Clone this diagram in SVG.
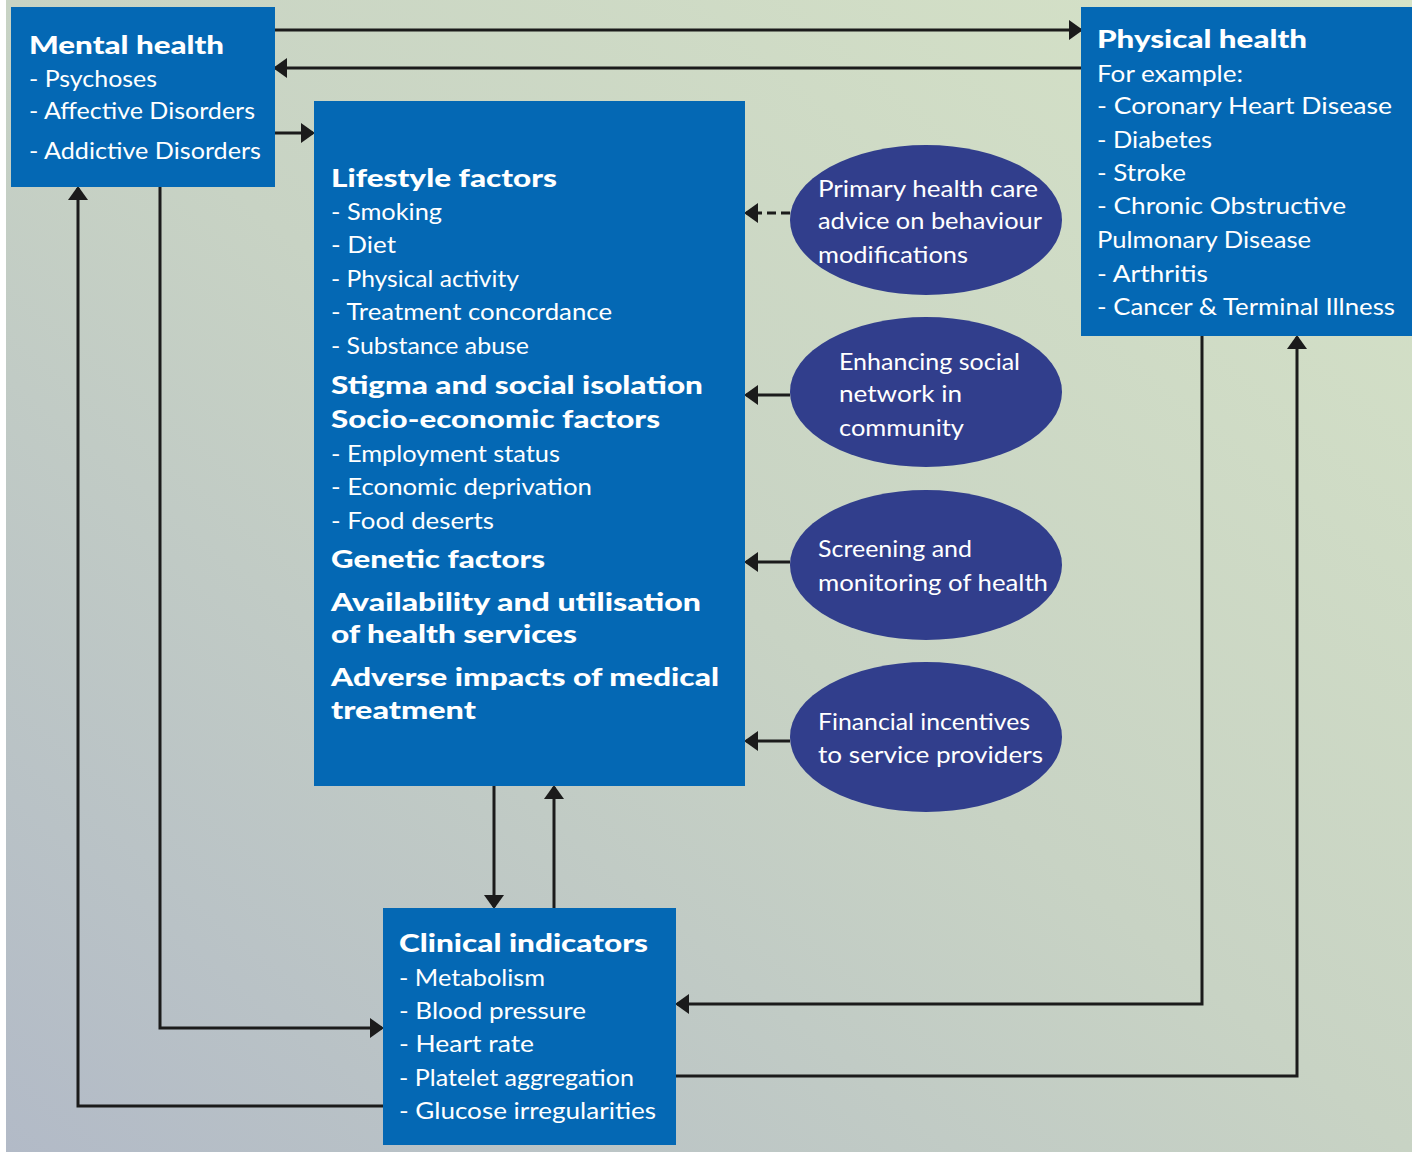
<svg xmlns="http://www.w3.org/2000/svg" width="1412" height="1152" viewBox="0 0 1412 1152">
  <defs>
    <linearGradient id="bg" x1="0" y1="1" x2="1" y2="0">
      <stop offset="0" stop-color="#b2bac7"/>
      <stop offset="0.5" stop-color="#c8d3c4"/>
      <stop offset="1" stop-color="#d6e3c7"/>
    </linearGradient>
    <marker id="arrow" markerUnits="userSpaceOnUse" viewBox="0 0 14 20" refX="12" refY="10" markerWidth="14" markerHeight="20" orient="auto">
      <path d="M0,0 L14,10 L0,20 Z" fill="#1b1b1b"/>
    </marker>
    <style>
      .box { fill: #0468b4; }
      .oval { fill: #313e8c; }
      .t { font-family: Lato, "Liberation Sans", sans-serif; font-size: 24px; fill: #ffffff; }
      .h { font-family: Lato, "Liberation Sans", sans-serif; font-size: 25px; font-weight: 900; fill: #ffffff; }
      .link { fill: none; stroke: #1b1b1b; stroke-width: 3; marker-end: url(#arrow); }
      .dash { stroke-dasharray: 9 5; }
    </style>
  </defs>

  <!-- background -->
  <rect x="0" y="0" width="1412" height="1152" fill="url(#bg)"/>
  <rect x="0" y="0" width="6" height="1152" fill="#ffffff"/>

  <!-- connectors -->
  <g id="connectors">
    <path class="link" d="M275,30 H1081"/>
    <path class="link" d="M1081,68 H275"/>
    <path class="link" d="M275,133 H313"/>
    <path class="link dash" d="M790,213 H746"/>
    <path class="link" d="M790,395 H746"/>
    <path class="link" d="M790,562 H746"/>
    <path class="link" d="M790,741 H746"/>
    <path class="link" d="M494,786 V907"/>
    <path class="link" d="M554,908 V787"/>
    <path class="link" d="M160,187 V1028 H382"/>
    <path class="link" d="M383,1106 H78 V188"/>
    <path class="link" d="M1202,336 V1004 H677"/>
    <path class="link" d="M676,1076 H1297 V337"/>
  </g>

  <!-- mental health -->
  <g id="mental-health">
    <rect class="box" x="11" y="7" width="264" height="180"/>
    <text class="h" x="29" y="54" textLength="195" lengthAdjust="spacingAndGlyphs">Mental health</text>
    <text class="t" x="29" y="87" textLength="128" lengthAdjust="spacingAndGlyphs">- Psychoses</text>
    <text class="t" x="29" y="119" textLength="226" lengthAdjust="spacingAndGlyphs">- Affective Disorders</text>
    <text class="t" x="29" y="159" textLength="232" lengthAdjust="spacingAndGlyphs">- Addictive Disorders</text>
  </g>

  <!-- physical health -->
  <g id="physical-health">
    <rect class="box" x="1081" y="7" width="331" height="329"/>
    <text class="h" x="1097" y="48" textLength="210" lengthAdjust="spacingAndGlyphs">Physical health</text>
    <text class="t" x="1097" y="82" textLength="146" lengthAdjust="spacingAndGlyphs">For example:</text>
    <text class="t" x="1097" y="114" textLength="295" lengthAdjust="spacingAndGlyphs">- Coronary Heart Disease</text>
    <text class="t" x="1097" y="148" textLength="115" lengthAdjust="spacingAndGlyphs">- Diabetes</text>
    <text class="t" x="1097" y="181" textLength="89" lengthAdjust="spacingAndGlyphs">- Stroke</text>
    <text class="t" x="1097" y="214" textLength="249" lengthAdjust="spacingAndGlyphs">- Chronic Obstructive</text>
    <text class="t" x="1097" y="248" textLength="214" lengthAdjust="spacingAndGlyphs">Pulmonary Disease</text>
    <text class="t" x="1097" y="282" textLength="111" lengthAdjust="spacingAndGlyphs">- Arthritis</text>
    <text class="t" x="1097" y="315" textLength="298" lengthAdjust="spacingAndGlyphs">- Cancer &amp; Terminal Illness</text>
  </g>

  <!-- determinants -->
  <g id="factors">
    <rect class="box" x="314" y="101" width="431" height="685"/>
    <text class="h" x="331" y="187" textLength="226" lengthAdjust="spacingAndGlyphs">Lifestyle factors</text>
    <text class="t" x="331" y="220" textLength="111" lengthAdjust="spacingAndGlyphs">- Smoking</text>
    <text class="t" x="331" y="253" textLength="65" lengthAdjust="spacingAndGlyphs">- Diet</text>
    <text class="t" x="331" y="287" textLength="188" lengthAdjust="spacingAndGlyphs">- Physical activity</text>
    <text class="t" x="331" y="320" textLength="281" lengthAdjust="spacingAndGlyphs">- Treatment concordance</text>
    <text class="t" x="331" y="354" textLength="198" lengthAdjust="spacingAndGlyphs">- Substance abuse</text>
    <text class="h" x="331" y="394" textLength="372" lengthAdjust="spacingAndGlyphs">Stigma and social isolation</text>
    <text class="h" x="331" y="428" textLength="329" lengthAdjust="spacingAndGlyphs">Socio-economic factors</text>
    <text class="t" x="331" y="462" textLength="229" lengthAdjust="spacingAndGlyphs">- Employment status</text>
    <text class="t" x="331" y="495" textLength="261" lengthAdjust="spacingAndGlyphs">- Economic deprivation</text>
    <text class="t" x="331" y="529" textLength="163" lengthAdjust="spacingAndGlyphs">- Food deserts</text>
    <text class="h" x="331" y="568" textLength="214" lengthAdjust="spacingAndGlyphs">Genetic factors</text>
    <text class="h" x="331" y="611" textLength="370" lengthAdjust="spacingAndGlyphs">Availability and utilisation</text>
    <text class="h" x="331" y="643" textLength="246" lengthAdjust="spacingAndGlyphs">of health services</text>
    <text class="h" x="331" y="686" textLength="388" lengthAdjust="spacingAndGlyphs">Adverse impacts of medical</text>
    <text class="h" x="331" y="719" textLength="145" lengthAdjust="spacingAndGlyphs">treatment</text>
  </g>

  <!-- interventions -->
  <g id="primary-care">
    <ellipse class="oval" cx="926" cy="220" rx="136" ry="75"/>
    <text class="t" x="818" y="197" textLength="220" lengthAdjust="spacingAndGlyphs">Primary health care</text>
    <text class="t" x="818" y="229" textLength="224" lengthAdjust="spacingAndGlyphs">advice on behaviour</text>
    <text class="t" x="818" y="263" textLength="150" lengthAdjust="spacingAndGlyphs">modifications</text>
  </g>
  <g id="social-network">
    <ellipse class="oval" cx="926" cy="392" rx="136" ry="75"/>
    <text class="t" x="839" y="370" textLength="181" lengthAdjust="spacingAndGlyphs">Enhancing social</text>
    <text class="t" x="839" y="402" textLength="123" lengthAdjust="spacingAndGlyphs">network in</text>
    <text class="t" x="839" y="436" textLength="125" lengthAdjust="spacingAndGlyphs">community</text>
  </g>
  <g id="screening">
    <ellipse class="oval" cx="926" cy="565" rx="136" ry="75"/>
    <text class="t" x="818" y="557" textLength="154" lengthAdjust="spacingAndGlyphs">Screening and</text>
    <text class="t" x="818" y="591" textLength="230" lengthAdjust="spacingAndGlyphs">monitoring of health</text>
  </g>
  <g id="incentives">
    <ellipse class="oval" cx="926" cy="737" rx="136" ry="75"/>
    <text class="t" x="818" y="730" textLength="212" lengthAdjust="spacingAndGlyphs">Financial incentives</text>
    <text class="t" x="818" y="763" textLength="225" lengthAdjust="spacingAndGlyphs">to service providers</text>
  </g>

  <!-- clinical indicators -->
  <g id="clinical-indicators">
    <rect class="box" x="383" y="908" width="293" height="237"/>
    <text class="h" x="399" y="952" textLength="249" lengthAdjust="spacingAndGlyphs">Clinical indicators</text>
    <text class="t" x="399" y="986" textLength="146" lengthAdjust="spacingAndGlyphs">- Metabolism</text>
    <text class="t" x="399" y="1019" textLength="187" lengthAdjust="spacingAndGlyphs">- Blood pressure</text>
    <text class="t" x="399" y="1052" textLength="135" lengthAdjust="spacingAndGlyphs">- Heart rate</text>
    <text class="t" x="399" y="1086" textLength="235" lengthAdjust="spacingAndGlyphs">- Platelet aggregation</text>
    <text class="t" x="399" y="1119" textLength="257" lengthAdjust="spacingAndGlyphs">- Glucose irregularities</text>
  </g>
</svg>
